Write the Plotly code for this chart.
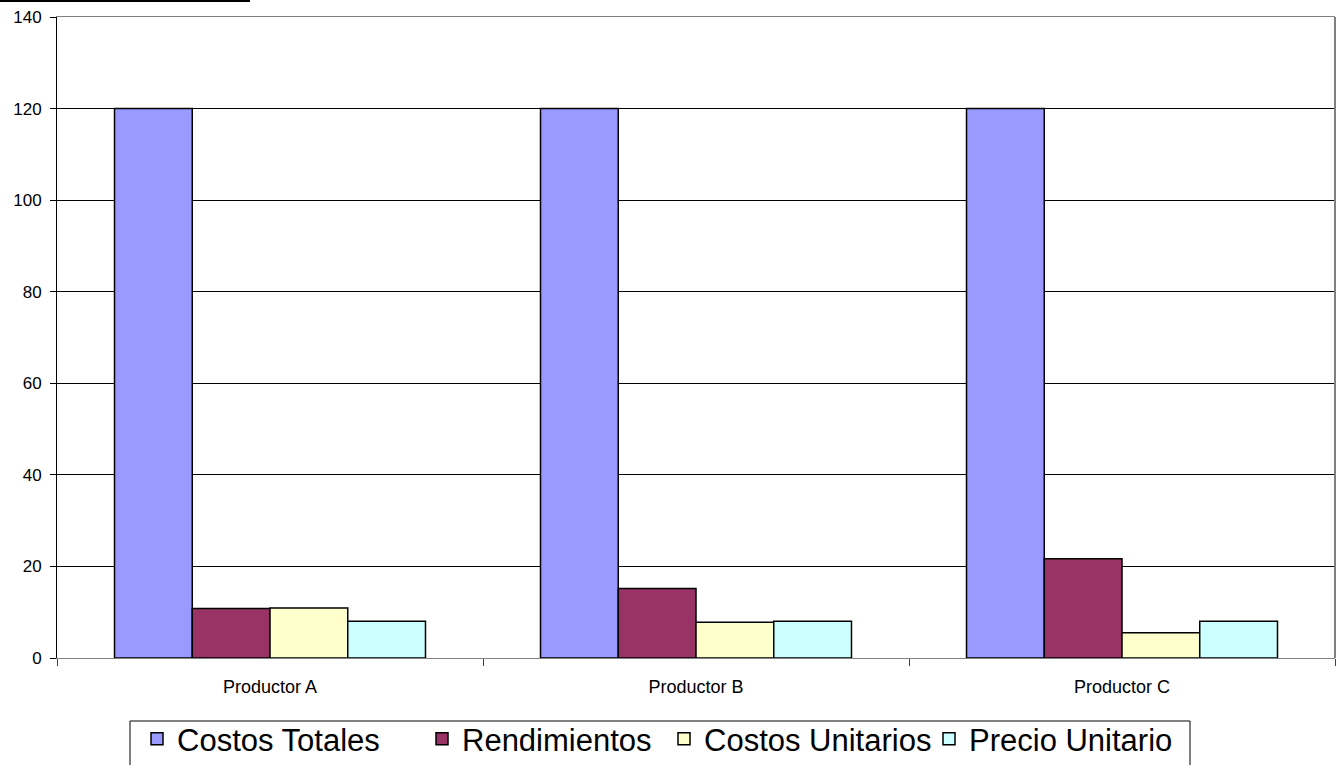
import plotly.graph_objects as go

categories = ["Productor A", "Productor B", "Productor C"]
series_names = ["Costos Totales", "Rendimientos", "Costos Unitarios", "Precio Unitario"]
costos_totales = [120, 120, 120]
rendimientos = [10.8, 15.2, 21.7]
costos_unitarios = [10.9, 7.8, 5.5]
precio_unitario = [8.0, 8.0, 8.0]
y_ticks = [0, 20, 40, 60, 80, 100, 120, 140]

colors = ["#9999FF", "#993366", "#FFFFCC", "#CCFFFF"]
values = [costos_totales, rendimientos, costos_unitarios, precio_unitario]
legend_ids = ["legend", "legend2", "legend3", "legend4"]

W, H = 1343, 765
L, R, T, B = 57, 8, 17, 107
pw, ph = W - L - R, H - T - B


def px_x(p):
    return (p - L) / pw


def px_y(p):
    return (H - B - p) / ph


fig = go.Figure()
for name, vals, col, lid in zip(series_names, values, colors, legend_ids):
    fig.add_trace(go.Bar(
        x=categories, y=vals, name=name, legend=lid,
        marker=dict(color=col, line=dict(color="black", width=1.5)),
    ))

FONT = "Liberation Sans, Arial, sans-serif"
text_starts = [178, 463, 705, 970]
legend_common = dict(
    orientation="h", yanchor="top", xanchor="left", y=px_y(712),
    font=dict(size=31, family=FONT, color="black"),
    bgcolor="rgba(0,0,0,0)", borderwidth=0,
)
legends = {}
for lid, ts in zip(legend_ids, text_starts):
    legends[lid] = dict(legend_common, x=px_x(ts - 41))

fig.update_layout(
    width=W, height=H,
    margin=dict(l=L, r=R, t=T, b=B, autoexpand=False),
    paper_bgcolor="white", plot_bgcolor="white",
    barmode="group", bargap=0.27, bargroupgap=0,
    font=dict(family=FONT, color="black"),
    showlegend=True,
    xaxis=dict(
        showline=True, linecolor="#808080", linewidth=1, mirror=True,
        ticks="outside", tickson="boundaries", ticklen=7, tickcolor="#404040",
        tickfont=dict(size=18), showgrid=False, ticklabelstandoff=12,
    ),
    yaxis=dict(
        range=[0, 140], tickvals=y_ticks, showline=True, linecolor="black", linewidth=1,
        ticks="outside", ticklen=6, tickcolor="black",
        showgrid=True, gridcolor="black", gridwidth=1, zeroline=False,
        tickfont=dict(size=17), ticklabelstandoff=5,
    ),
    shapes=[
        dict(type="line", xref="paper", yref="paper", x0=1, x1=1, y0=0, y1=1,
             line=dict(color="#808080", width=2)),
        dict(type="line", xref="paper", yref="paper", x0=px_x(0), x1=px_x(250),
             y0=px_y(1), y1=px_y(1), line=dict(color="black", width=2)),
        dict(type="rect", xref="paper", yref="paper", x0=px_x(130), x1=px_x(1190),
             y0=px_y(721), y1=px_y(790), line=dict(color="black", width=1),
             fillcolor="rgba(0,0,0,0)"),
    ],
    **legends,
)

fig.write_html("out.html", config={"displayModeBar": False},
               post_script="document.body.style.margin='0';")
